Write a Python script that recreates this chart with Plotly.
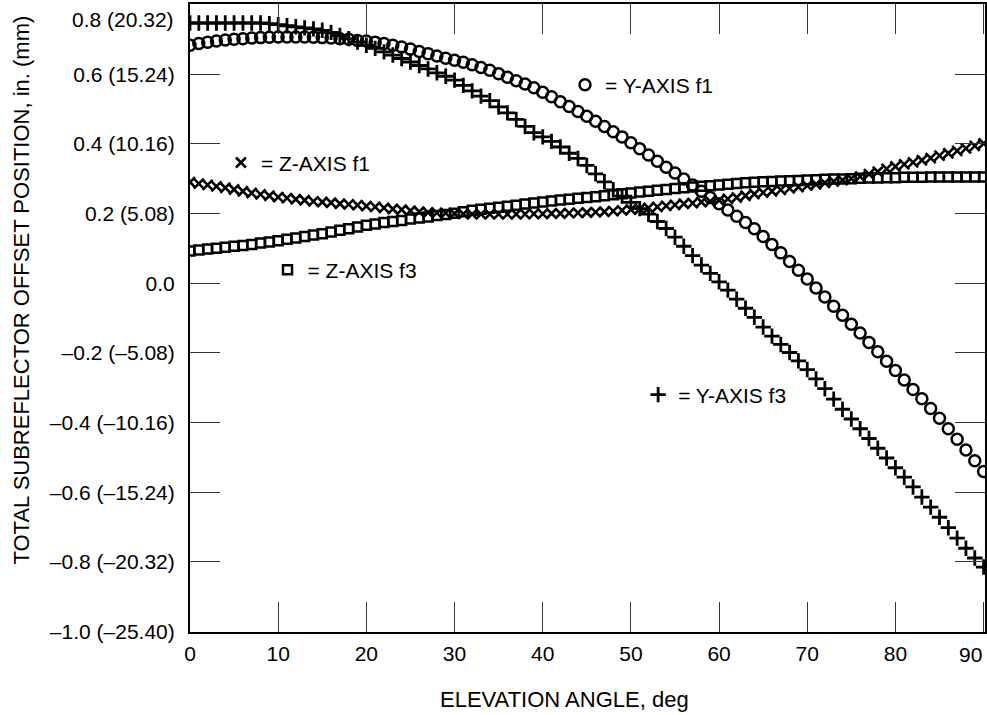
import plotly.graph_objects as go

# ---------------- data ----------------
elevation_deg = list(range(0, 91))

y_axis_f1 = [
    0.683, 0.688, 0.692, 0.695, 0.698, 0.700, 0.702, 0.704, 0.705, 0.706,
    0.707, 0.707, 0.707, 0.707, 0.706, 0.705, 0.704, 0.702, 0.700, 0.697,
    0.695, 0.692, 0.688, 0.683, 0.678, 0.672, 0.665, 0.659, 0.652, 0.646,
    0.640, 0.634, 0.627, 0.619, 0.611, 0.601, 0.591, 0.581, 0.572, 0.561,
    0.548, 0.535, 0.521, 0.507, 0.493, 0.479, 0.465, 0.450, 0.435, 0.420,
    0.403, 0.386, 0.368, 0.350, 0.333, 0.316, 0.299, 0.282, 0.264, 0.246,
    0.228, 0.210, 0.192, 0.174, 0.156, 0.134, 0.111, 0.087, 0.062, 0.037,
    0.012, -0.014, -0.040, -0.066, -0.092, -0.118, -0.143, -0.170, -0.197, -0.224,
    -0.251, -0.278, -0.305, -0.332, -0.360, -0.388, -0.418, -0.448, -0.479, -0.510,
    -0.541,
]

y_axis_f3 = [
    0.747, 0.747, 0.747, 0.747, 0.747, 0.747, 0.747, 0.747, 0.747, 0.745,
    0.742, 0.739, 0.736, 0.733, 0.730, 0.726, 0.720, 0.711, 0.702, 0.692,
    0.683, 0.674, 0.664, 0.655, 0.645, 0.635, 0.625, 0.615, 0.604, 0.594,
    0.583, 0.568, 0.552, 0.537, 0.524, 0.506, 0.489, 0.470, 0.450, 0.432,
    0.420, 0.407, 0.391, 0.373, 0.358, 0.338, 0.314, 0.291, 0.268, 0.250,
    0.232, 0.214, 0.198, 0.177, 0.157, 0.132, 0.106, 0.079, 0.052, 0.028,
    0.004, -0.020, -0.046, -0.072, -0.098, -0.126, -0.152, -0.176, -0.199, -0.223,
    -0.248, -0.275, -0.303, -0.333, -0.362, -0.390, -0.418, -0.446, -0.474, -0.502,
    -0.530, -0.557, -0.585, -0.614, -0.643, -0.672, -0.702, -0.732, -0.761, -0.789,
    -0.815,
]

z_axis_f1 = [
    0.290, 0.286, 0.282, 0.278, 0.274, 0.269, 0.264, 0.259, 0.255, 0.251,
    0.247, 0.244, 0.241, 0.238, 0.235, 0.233, 0.231, 0.228, 0.226, 0.224,
    0.221, 0.219, 0.216, 0.213, 0.211, 0.208, 0.205, 0.203, 0.202, 0.201,
    0.200, 0.199, 0.198, 0.198, 0.198, 0.198, 0.198, 0.198, 0.198, 0.199,
    0.199, 0.200, 0.200, 0.201, 0.202, 0.203, 0.204, 0.205, 0.207, 0.209,
    0.211, 0.213, 0.216, 0.219, 0.222, 0.225, 0.228, 0.230, 0.233, 0.235,
    0.238, 0.242, 0.246, 0.251, 0.256, 0.260, 0.264, 0.268, 0.272, 0.276,
    0.280, 0.284, 0.288, 0.292, 0.296, 0.300, 0.306, 0.313, 0.320, 0.328,
    0.335, 0.341, 0.347, 0.353, 0.359, 0.366, 0.373, 0.380, 0.387, 0.394,
    0.401,
]

z_axis_f3 = [
    0.092, 0.095, 0.098, 0.100, 0.103, 0.106, 0.108, 0.111, 0.115, 0.118,
    0.122, 0.126, 0.130, 0.134, 0.138, 0.142, 0.147, 0.152, 0.156, 0.161,
    0.166, 0.170, 0.174, 0.177, 0.180, 0.184, 0.187, 0.190, 0.194, 0.197,
    0.201, 0.205, 0.209, 0.212, 0.215, 0.218, 0.221, 0.224, 0.227, 0.230,
    0.233, 0.236, 0.239, 0.241, 0.244, 0.246, 0.248, 0.251, 0.254, 0.257,
    0.259, 0.262, 0.264, 0.267, 0.269, 0.272, 0.274, 0.276, 0.278, 0.280,
    0.282, 0.284, 0.286, 0.288, 0.290, 0.291, 0.292, 0.293, 0.294, 0.295,
    0.296, 0.297, 0.298, 0.299, 0.299, 0.300, 0.301, 0.302, 0.302, 0.303,
    0.303, 0.304, 0.304, 0.304, 0.305, 0.305, 0.305, 0.305, 0.305, 0.305,
    0.305,
]

x_tick_vals = [0, 10, 20, 30, 40, 50, 60, 70, 80, 90]
x_tick_text = ["0", "10", "20", "30", "40", "50", "60", "70", "80", "90"]
y_tick_vals = [-1.0, -0.8, -0.6, -0.4, -0.2, 0.0, 0.2, 0.4, 0.6, 0.8]
y_tick_text = ["\u20131.0 (\u201325.40)", "\u20130.8 (\u201320.32)", "\u20130.6 (\u201315.24)",
               "\u20130.4 (\u201310.16)", "\u20130.2 (\u20135.08)", "0.0", "0.2 (5.08)",
               "0.4 (10.16)", "0.6 (15.24)", "0.8 (20.32)"]

series_names = ["= Y-AXIS f1", "= Z-AXIS f1", "= Z-AXIS f3", "= Y-AXIS f3"]

# ---------------- figure ----------------
FONT = "Liberation Sans, Arial, Helvetica, sans-serif"
BLACK = "#000000"
FS = 21

fig = go.Figure()

styles = [
    (y_axis_f1, "circle-open", 11, 2.5, "legend"),
    (z_axis_f1, "x-thin-open", 10, 2.6, "legend2"),
    (z_axis_f3, "square-open", 9, 2.5, "legend3"),
    (y_axis_f3, "cross-thin-open", 11, 2.8, "legend4"),
]
for (vals, sym, size, lw, leg), name in zip(styles, series_names):
    fig.add_trace(go.Scatter(
        x=elevation_deg, y=vals, mode="markers", name=name, legend=leg,
        marker=dict(symbol=sym, size=size, color=BLACK, line=dict(color=BLACK, width=lw)),
        showlegend=True,
    ))

def leg(x, y):
    return dict(x=x, y=y, xanchor="left", yanchor="middle", bgcolor="rgba(0,0,0,0)",
                borderwidth=0, font=dict(family=FONT, size=FS, color=BLACK))

# edge tick labels are nudged inward in the reference, so they are drawn as annotations
x_text_main = x_tick_text[:-1] + [""]
y_text_main = y_tick_text[:-1] + [""]

fig.update_layout(
    width=987, height=715,
    margin=dict(l=190, r=0, t=4, b=83),
    paper_bgcolor="white", plot_bgcolor="white",
    font=dict(family=FONT, size=FS, color=BLACK),
    showlegend=True,
    legend=leg(0.4717, 0.871),
    legend2=leg(0.0389, 0.747),
    legend3=leg(0.0975, 0.5764),
    legend4=leg(0.5637, 0.3774),
    xaxis=dict(
        range=[0, 90.16], tickvals=x_tick_vals, ticktext=x_text_main, ticks="inside",
        ticklen=30, tickwidth=1, tickcolor="#333333", showline=True, linewidth=2,
        linecolor=BLACK, mirror="ticks", showgrid=False, zeroline=False,
        ticklabelstandoff=2, tickfont=dict(family=FONT, size=FS, color=BLACK),
    ),
    yaxis=dict(
        range=[-1.0015, 0.8015], tickvals=y_tick_vals, ticktext=y_text_main, ticks="inside",
        ticklen=30, tickwidth=1, tickcolor="#333333", showline=True, linewidth=2,
        linecolor=BLACK, mirror="ticks", showgrid=False, zeroline=False,
        ticklabelstandoff=9, tickfont=dict(family=FONT, size=FS, color=BLACK),
    ),
    annotations=[
        dict(text=y_tick_text[-1], xref="paper", yref="y", x=0, y=y_tick_vals[-1],
             xanchor="right", yanchor="middle", xshift=-14, yshift=-15,
             showarrow=False, font=dict(family=FONT, size=FS, color=BLACK)),
        dict(text=x_tick_text[-1], xref="x", yref="paper", x=x_tick_vals[-1], y=0,
             xanchor="center", yanchor="middle", xshift=-13, yshift=-22,
             showarrow=False, font=dict(family=FONT, size=FS, color=BLACK)),
        dict(text="TOTAL SUBREFLECTOR OFFSET POSITION, in. (mm)", xref="paper", yref="paper",
             x=-0.2119, y=0.5446, xanchor="center", yanchor="middle", textangle=-90,
             showarrow=False, font=dict(family=FONT, size=22, color=BLACK)),
        dict(text="ELEVATION ANGLE, deg", xref="paper", yref="paper",
             x=0.471, y=-0.108, xanchor="center", yanchor="middle",
             showarrow=False, font=dict(family=FONT, size=22, color=BLACK)),
    ],
)

fig.write_html(
    "out.html",
    config={"displayModeBar": False},
    post_script="document.documentElement.style.margin='0';document.body.style.margin='0';"
                "document.body.style.overflow='hidden';document.documentElement.style.overflow='hidden';",
)
